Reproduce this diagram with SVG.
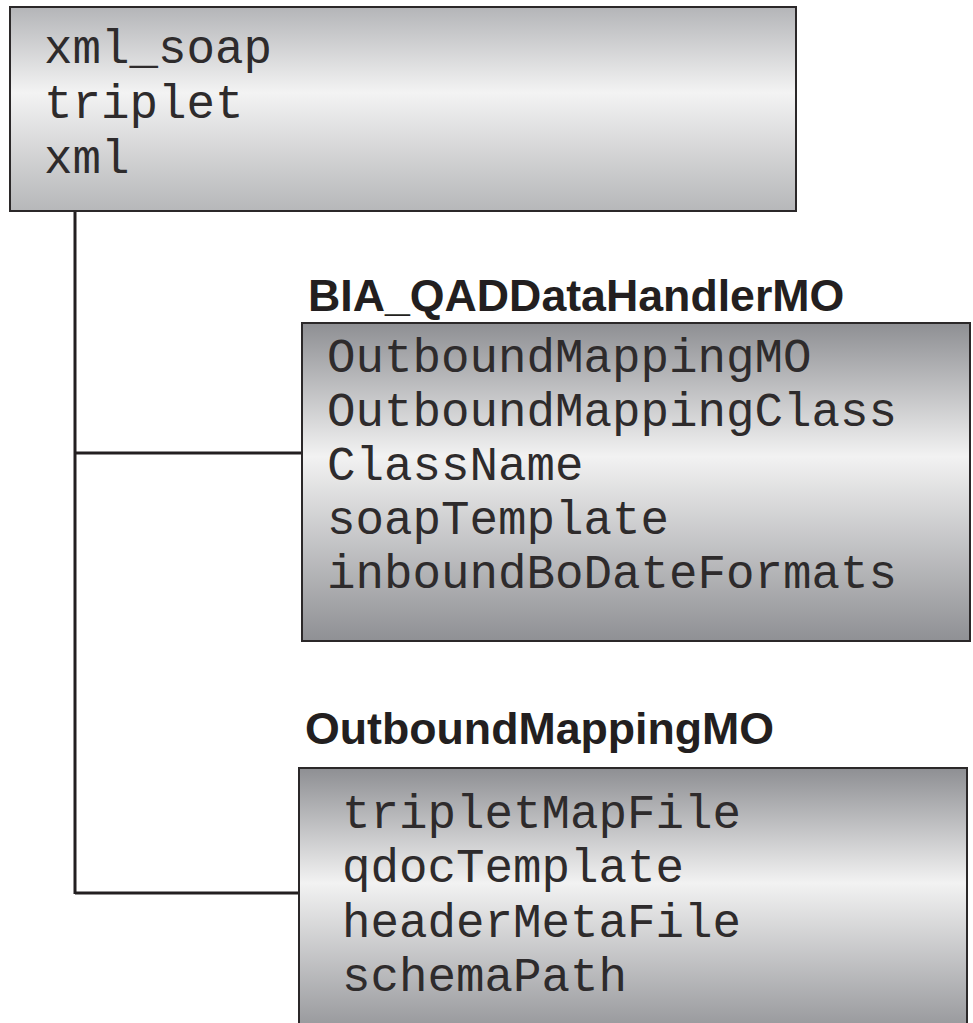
<svg xmlns="http://www.w3.org/2000/svg" width="973" height="1023" viewBox="0 0 973 1023">
<defs>
<linearGradient id="gLight" x1="0" y1="0" x2="0" y2="1">
<stop offset="0" stop-color="#b4b5b8"/>
<stop offset="0.42" stop-color="#f3f3f3"/>
<stop offset="1" stop-color="#b6b7b9"/>
</linearGradient>
<linearGradient id="gDark" x1="0" y1="0" x2="0" y2="1">
<stop offset="0" stop-color="#8e8f93"/>
<stop offset="0.42" stop-color="#f2f2f2"/>
<stop offset="1" stop-color="#8f9094"/>
</linearGradient>
</defs>
<style>
.box{stroke:#2b2829;stroke-width:2}
.mono{font-family:"Liberation Mono","Courier New",monospace;font-size:47.5px;fill:#2e2b2c}
.title{font-family:"Liberation Sans",Arial,sans-serif;font-weight:bold;font-size:44.7px;fill:#231f20}
.conn{stroke:#231f20;stroke-width:3;fill:none}
</style>
<rect width="973" height="1023" fill="#ffffff"/>
<g id="connectors">
<path class="conn" d="M75 211 V894"/>
<path class="conn" d="M75 453 H302"/>
<path class="conn" d="M75 893 H299"/>
</g>
<g id="node-root">
<rect class="box" x="10" y="7" width="786" height="204" fill="url(#gLight)"/>
<text class="mono" x="44" y="63">xml_soap</text>
<text class="mono" x="44" y="118">triplet</text>
<text class="mono" x="44" y="173">xml</text>
</g>
<g id="node-handler">
<text class="title" x="308" y="311">BIA_QADDataHandlerMO</text>
<rect class="box" x="302" y="323" width="668" height="318" fill="url(#gDark)"/>
<text class="mono" x="327" y="372">OutboundMappingMO</text>
<text class="mono" x="327" y="426">OutboundMappingClass</text>
<text class="mono" x="327" y="480">ClassName</text>
<text class="mono" x="327" y="534">soapTemplate</text>
<text class="mono" x="327" y="588">inboundBoDateFormats</text>
</g>
<g id="node-outbound">
<text class="title" x="305" y="744">OutboundMappingMO</text>
<rect class="box" x="299" y="768" width="668" height="274" fill="url(#gDark)"/>
<text class="mono" x="342" y="828">tripletMapFile</text>
<text class="mono" x="342" y="882">qdocTemplate</text>
<text class="mono" x="342" y="937">headerMetaFile</text>
<text class="mono" x="342" y="991">schemaPath</text>
</g>
</svg>
